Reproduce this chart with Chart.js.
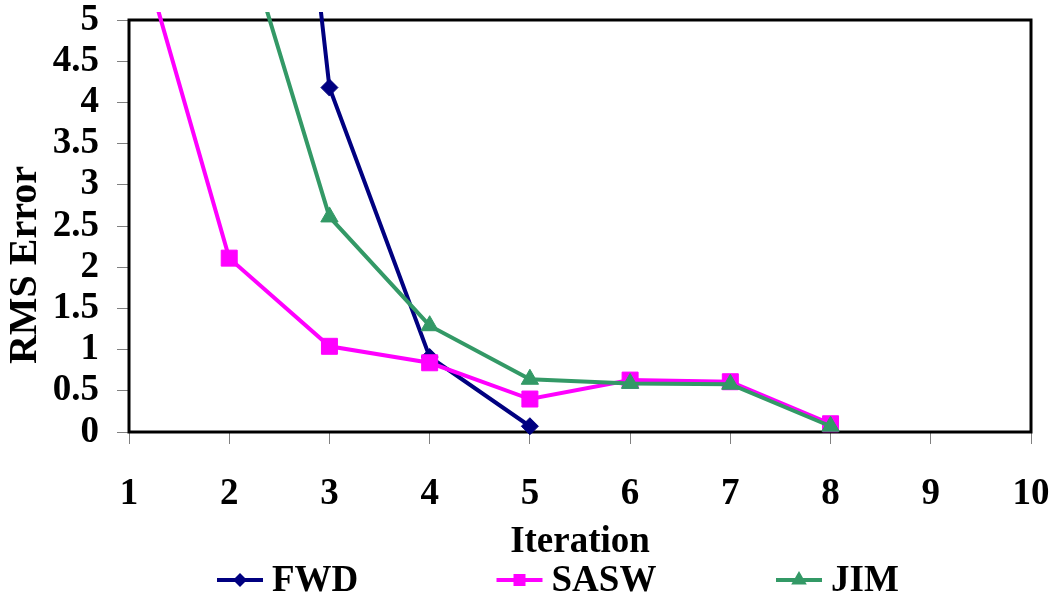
<!DOCTYPE html>
<html>
<head>
<meta charset="utf-8">
<script src="https://cdn.jsdelivr.net/npm/chart.js@4/dist/chart.umd.min.js"></script>
<style>
  html, body { margin: 0; padding: 0; background: #fff; }
  canvas { display: block; }
</style>
</head>
<body>
<canvas id="rms" width="1055" height="599"></canvas>
<script>
// Iteration number for each measurement
const iterations = [1, 2, 3, 4, 5, 6, 7, 8];
// RMS error per iteration for each inversion method (null = not recorded)
const fwd  = [null, 15.0, 4.18, 0.91, 0.07, null, null, null];
const sasw = [6.35, 2.11, 1.04, 0.84, 0.40, 0.63, 0.61, 0.10];
const jim  = [null, 6.62, 2.61, 1.29, 0.64, 0.59, 0.58, 0.07];
const seriesNames = ['FWD', 'SASW', 'JIM'];
const xTicks = [1, 2, 3, 4, 5, 6, 7, 8, 9, 10];
const yTicks = [0, 0.5, 1, 1.5, 2, 2.5, 3, 3.5, 4, 4.5, 5];

const FONT_FAMILY = '"Liberation Serif", "Times New Roman", serif';
const bold = (size, lh) => ({ family: FONT_FAMILY, size: size, weight: 'bold', lineHeight: lh || 1.2 });

const toPoints = vals => iterations.map((x, i) => ({ x: x, y: vals[i] }));

const styles = [
  { color: '#000080', pointStyle: 'rectRot',  radius: 8.5, order: 2 },
  { color: '#FF00FF', pointStyle: 'rect',     radius: 11.3, order: 1 },
  { color: '#339966', pointStyle: 'triangle', radius: 10, order: 0 }
];
const values = [fwd, sasw, jim];

const datasets = values.map((vals, i) => ({
  label: seriesNames[i],
  data: toPoints(vals),
  borderColor: styles[i].color,
  backgroundColor: styles[i].color,
  pointBackgroundColor: styles[i].color,
  pointBorderColor: styles[i].color,
  pointBorderWidth: 1,
  pointStyle: styles[i].pointStyle,
  pointRadius: styles[i].radius,
  pointHoverRadius: styles[i].radius,
  borderWidth: 4,
  tension: 0,
  spanGaps: false,
  order: styles[i].order,
  clip: { left: 4, top: 8, right: 4, bottom: 12 }
}));

// Plot frame, rotated y-axis title and a column-style legend
const decorations = {
  id: 'decorations',
  beforeDatasetsDraw(chart) {
    const a = chart.chartArea;
    const ctx = chart.ctx;
    ctx.save();
    ctx.strokeStyle = '#000';
    ctx.lineWidth = 3;
    ctx.strokeRect(a.left, a.top, a.right - a.left, a.bottom - a.top);
    ctx.restore();
  },
  afterDraw(chart) {
    const a = chart.chartArea;
    const ctx = chart.ctx;
    ctx.save();
    ctx.fillStyle = '#000';
    ctx.font = 'bold 40px ' + FONT_FAMILY;
    ctx.textAlign = 'center';
    ctx.textBaseline = 'middle';
    // y-axis title
    ctx.translate(26, (a.top + a.bottom) / 2 + 39);
    ctx.rotate(-Math.PI / 2);
    ctx.fillText('RMS Error', 0, 0);
    ctx.restore();

    // legend
    const legendY = 580;
    const startX = a.left + 88;
    const colW = 279.5;
    ctx.save();
    seriesNames.forEach((name, i) => {
      const s = styles[i];
      const x0 = startX + i * colW;
      ctx.strokeStyle = s.color;
      ctx.fillStyle = s.color;
      ctx.lineWidth = 4;
      ctx.beginPath();
      ctx.moveTo(x0, legendY);
      ctx.lineTo(x0 + 46, legendY);
      ctx.stroke();
      const cx = x0 + 23;
      ctx.beginPath();
      if (s.pointStyle === 'rectRot') {
        const r = 7;
        ctx.moveTo(cx, legendY - r); ctx.lineTo(cx + r, legendY);
        ctx.lineTo(cx, legendY + r); ctx.lineTo(cx - r, legendY);
      } else if (s.pointStyle === 'rect') {
        const h = 6;
        ctx.rect(cx - h, legendY - h, 2 * h, 2 * h);
      } else {
        const r = 9;
        ctx.moveTo(cx, legendY - r);
        ctx.lineTo(cx + r * 0.866, legendY + r * 0.5);
        ctx.lineTo(cx - r * 0.866, legendY + r * 0.5);
      }
      ctx.closePath();
      ctx.fill();
      ctx.fillStyle = '#000';
      ctx.font = 'bold 37px ' + FONT_FAMILY;
      ctx.textAlign = 'left';
      ctx.textBaseline = 'middle';
      ctx.fillText(name, x0 + 55, legendY + 1);
    });
    ctx.restore();
  }
};

new Chart(document.getElementById('rms'), {
  type: 'line',
  data: { datasets: datasets },
  options: {
    responsive: false,
    animation: false,
    devicePixelRatio: 1,
    layout: { padding: { top: 20, right: 24, left: 0, bottom: 0 } },
    plugins: { legend: { display: false }, tooltip: { enabled: false } },
    scales: {
      x: {
        type: 'linear',
        min: xTicks[0],
        max: xTicks[xTicks.length - 1],
        afterBuildTicks: s => { s.ticks = xTicks.map(v => ({ value: v })); },
        ticks: { font: bold(37), color: '#000', padding: 28, maxRotation: 0, autoSkip: false,
                 callback: v => String(v) },
        grid: { drawOnChartArea: false, drawTicks: true, tickLength: 12, color: '#808080', lineWidth: 1 },
        border: { display: false },
        title: { display: true, text: 'Iteration', font: bold(37), color: '#000',
                 padding: { top: 0, bottom: 34 } },
        afterFit: s => { s.height = 167; s.paddingLeft = 0; s.paddingRight = 0; }
      },
      y: {
        min: yTicks[0],
        max: yTicks[yTicks.length - 1],
        afterBuildTicks: s => { s.ticks = yTicks.map(v => ({ value: v })); },
        ticks: { font: bold(37, 1), color: '#000', padding: 18, autoSkip: false,
                 callback: v => String(v) },
        grid: { drawOnChartArea: false, drawTicks: true, tickLength: 12, color: '#808080', lineWidth: 1 },
        border: { display: false },
        afterFit: s => { s.width = 129; s.paddingTop = 0; s.paddingBottom = 0; }
      }
    }
  },
  plugins: [decorations]
});
</script>
</body>
</html>
